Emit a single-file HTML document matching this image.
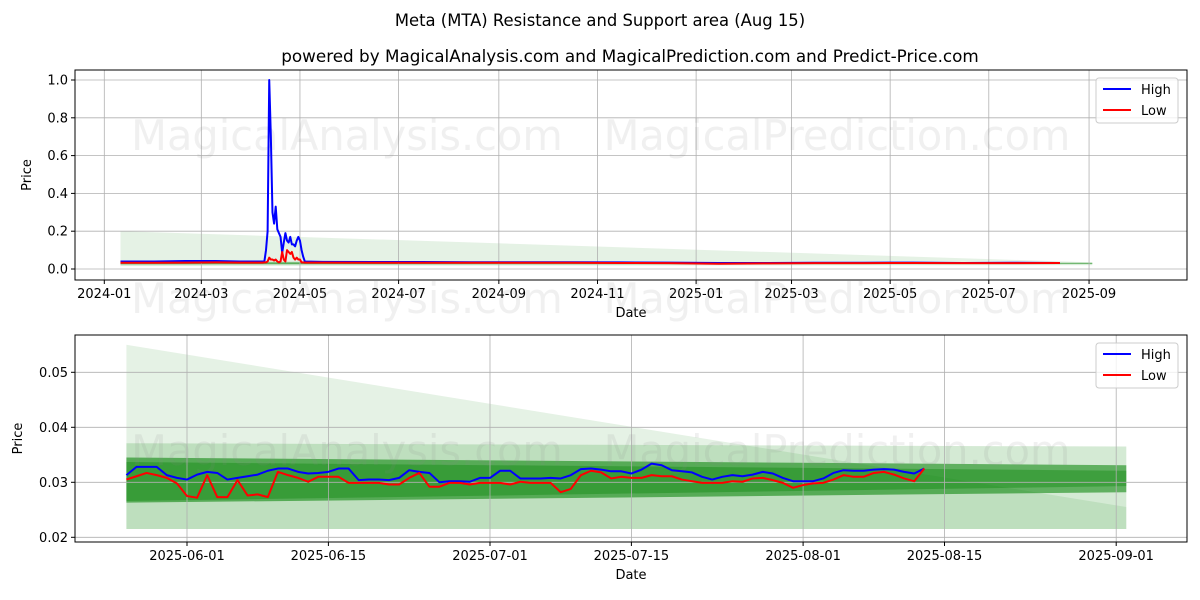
<!DOCTYPE html>
<html><head><meta charset="utf-8">
<style>
body{margin:0;background:#fff;}
svg{display:block;font-family:"DejaVu Sans","Liberation Sans",sans-serif;}
</style></head>
<body>
<svg id="chart" width="1200" height="600" viewBox="0 0 1200 600" xmlns="http://www.w3.org/2000/svg">
<rect width="1200" height="600" fill="#fff"/>
<text x="600" y="26" text-anchor="middle" font-size="16.4">Meta (MTA) Resistance and Support area (Aug 15)</text>
<text x="630" y="62" text-anchor="middle" font-size="16.8">powered by MagicalAnalysis.com and MagicalPrediction.com and Predict-Price.com</text>
<g id="top"></g>
<g id="bot"></g>
</svg>
<script>
// ---- top panel data ----
const topDates = ["2024-01-11","2024-02-01","2024-02-20","2024-03-10","2024-03-25","2024-04-08","2024-04-09","2024-04-10","2024-04-11","2024-04-12","2024-04-13","2024-04-14","2024-04-15","2024-04-16","2024-04-17","2024-04-18","2024-04-19","2024-04-20","2024-04-21","2024-04-22","2024-04-23","2024-04-24","2024-04-25","2024-04-26","2024-04-27","2024-04-28","2024-04-29","2024-04-30","2024-05-01","2024-05-02","2024-05-03","2024-05-04","2024-05-15","2024-06-15","2024-07-15","2024-08-15","2024-09-15","2024-10-15","2024-11-15","2024-12-15","2025-01-15","2025-02-15","2025-03-15","2025-04-15","2025-05-15","2025-06-15","2025-07-15","2025-08-14"];
const topHigh = [0.04,0.04,0.042,0.042,0.04,0.04,0.04,0.10,0.20,1.0,0.70,0.30,0.24,0.33,0.21,0.19,0.17,0.085,0.14,0.19,0.15,0.14,0.17,0.13,0.13,0.12,0.15,0.17,0.15,0.10,0.065,0.04,0.038,0.037,0.037,0.036,0.036,0.036,0.035,0.034,0.032,0.032,0.033,0.033,0.034,0.032,0.033,0.032];
const topLow = [0.033,0.033,0.034,0.035,0.034,0.034,0.035,0.035,0.04,0.06,0.05,0.05,0.045,0.05,0.04,0.035,0.04,0.09,0.05,0.04,0.10,0.09,0.08,0.09,0.06,0.05,0.06,0.05,0.05,0.035,0.035,0.034,0.034,0.033,0.033,0.033,0.033,0.033,0.032,0.031,0.028,0.030,0.031,0.031,0.032,0.031,0.031,0.032];
const topXTicks = ["2024-01","2024-03","2024-05","2024-07","2024-09","2024-11","2025-01","2025-03","2025-05","2025-07","2025-09"];
const topYTicks = [0.0,0.2,0.4,0.6,0.8,1.0];
// ---- bottom panel data ----
const botStart = "2025-05-26";
const botHigh = [0.0313,0.0328,0.0328,0.0328,0.0313,0.0308,0.0305,0.0314,0.0319,0.0317,0.0305,0.0308,0.0311,0.0314,0.0321,0.0325,0.0325,0.0319,0.0316,0.0317,0.0319,0.0325,0.0325,0.0304,0.0305,0.0305,0.0304,0.0308,0.0322,0.0319,0.0317,0.0300,0.0302,0.0302,0.0301,0.0308,0.0308,0.0321,0.0321,0.0307,0.0307,0.0307,0.0308,0.0307,0.0313,0.0324,0.0325,0.0323,0.0320,0.0320,0.0316,0.0323,0.0334,0.0331,0.0322,0.0320,0.0318,0.0310,0.0305,0.0310,0.0313,0.0311,0.0314,0.0319,0.0316,0.0308,0.0302,0.0302,0.0302,0.0307,0.0317,0.0322,0.0321,0.0321,0.0323,0.0324,0.0323,0.0319,0.0316,0.0325];
const botLow = [0.0305,0.0311,0.0317,0.0313,0.0308,0.0298,0.0275,0.0272,0.0313,0.0273,0.0273,0.0304,0.0276,0.0278,0.0273,0.0319,0.0313,0.0308,0.0301,0.0310,0.0310,0.0310,0.0299,0.0299,0.0299,0.0299,0.0296,0.0296,0.0308,0.0317,0.0292,0.0292,0.0299,0.0299,0.0296,0.0299,0.0299,0.0299,0.0296,0.0301,0.0299,0.0299,0.0299,0.0282,0.0288,0.0313,0.0321,0.0318,0.0307,0.0310,0.0308,0.0308,0.0313,0.0311,0.0311,0.0305,0.0302,0.0299,0.0299,0.0299,0.0302,0.0301,0.0307,0.0308,0.0304,0.0299,0.0290,0.0295,0.0298,0.0299,0.0305,0.0313,0.0310,0.0310,0.0317,0.0319,0.0314,0.0307,0.0302,0.0325];
const botXTicks = ["2025-06-01","2025-06-15","2025-07-01","2025-07-15","2025-08-01","2025-08-15","2025-09-01"];
const botYTicks = [0.02,0.03,0.04,0.05];

const NS="http://www.w3.org/2000/svg";
function mk(parent,tag,attrs,txt){const e=document.createElementNS(NS,tag);for(const k in attrs)e.setAttribute(k,attrs[k]);if(txt!==undefined)e.textContent=txt;parent.appendChild(e);return e;}
function dnum(s){if(s.length===7)s+="-01";return Date.UTC(+s.slice(0,4),+s.slice(5,7)-1,+s.slice(8,10))/864e5;}

const T={x0:75,x1:1187,y0:70,y1:280};
const tx=d=>104.3+(dnum(d)-dnum("2024-01-01"))*1.617;
const ty=v=>269-v*189;
const B={x0:75,x1:1187,y0:335,y1:542};
const bx=d=>187+(d-dnum("2025-06-01"))*10.1;
const by=v=>482.3-(v-0.03)*5500;

function poly(g,pts,fill,name){const p=mk(g,"polygon",{points:pts.map(p=>p.join(",")).join(" "),fill:fill});

}

function panel(g,A,xt,xlab,yt,ylab,yfmt,xfn,yfn,bands,series,wmY){
  bands();
  xt.forEach(t=>{const x=xfn(t);const l=mk(g,"line",{x1:x,x2:x,y1:A.y0,y2:A.y1,stroke:"#b0b0b0","stroke-width":0.8});
    
    
    mk(g,"line",{x1:x,x2:x,y1:A.y1,y2:A.y1+4,stroke:"#000"});
    const tl=mk(g,"text",{x:x,y:A.y1+18,"text-anchor":"middle","font-size":13},xlab(t));
    
    });
  yt.forEach(v=>{const y=yfn(v);const l=mk(g,"line",{x1:A.x0,x2:A.x1,y1:y,y2:y,stroke:"#b0b0b0","stroke-width":0.8});
    
    
    mk(g,"line",{x1:A.x0-4,x2:A.x0,y1:y,y2:y,stroke:"#000"});
    const tl=mk(g,"text",{x:A.x0-7,y:y+4.5,"text-anchor":"end","font-size":13},yfmt(v));
    
    });
  [[347,"MagicalAnalysis.com"],[837,"MagicalPrediction.com"]].forEach(w=>{const t=mk(g,"text",{x:w[0],y:wmY,"text-anchor":"middle","font-size":41.5,fill:"#888","fill-opacity":0.13},w[1]);
    
    });
  series();
  const f=mk(g,"rect",{x:A.x0,y:A.y0,width:A.x1-A.x0,height:A.y1-A.y0,fill:"none",stroke:"#000","stroke-width":1});
  
  
  const xl=mk(g,"text",{x:(A.x0+A.x1)/2,y:A.y1+37,"text-anchor":"middle","font-size":13},"Date");
  
  
  const yx=A===T?31:22;const ymid=(A.y0+A.y1)/2;
  const yl=mk(g,"text",{x:yx,y:ymid,"text-anchor":"middle","font-size":13,transform:`rotate(-90 ${yx} ${ymid})`},"Price");
  
  
  const lg=mk(g,"g",{});
  
  
  mk(lg,"rect",{x:1096,y:A.y0+8,width:82,height:45,rx:3,fill:"#fff","fill-opacity":0.8,stroke:"#ccc"});
  [["High","#0000ff",22],["Low","#ff0000",43]].forEach(e=>{const it=mk(lg,"g",{});
    
    
    mk(it,"line",{x1:1103,x2:1131,y1:A.y0+e[2]-3,y2:A.y0+e[2]-3,stroke:e[1],"stroke-width":2});
    mk(it,"text",{x:1141,y:A.y0+e[2]+2,"font-size":13},e[0]);});
}

function line(g,pts,color,name){const p=mk(g,"polyline",{points:pts.map(p=>p.join(",")).join(" "),fill:"none",stroke:color,"stroke-width":2,"stroke-linejoin":"round"});
  
  }

const gt=document.getElementById("top"), gb=document.getElementById("bot");
panel(gt,T,topXTicks,t=>t,topYTicks,"Price",v=>v.toFixed(1),tx,ty,()=>{
  const xa=tx("2024-01-11"), xb=tx("2025-09-03");
  poly(gt,[[xa,ty(0.2)],[xb,ty(0.035)],[xb,ty(0.02)],[xa,ty(0.015)]],"rgba(0,128,0,0.1)","support-band-wide");
  poly(gt,[[xa,ty(0.04)],[xb,ty(0.035)],[xb,ty(0.025)],[xa,ty(0.02)]],"rgba(0,128,0,0.2)","support-band-mid");
  poly(gt,[[xa,ty(0.035)],[xb,ty(0.033)],[xb,ty(0.028)],[xa,ty(0.026)]],"rgba(0,128,0,0.5)","support-band-core");
},()=>{
  line(gt,topDates.map((d,i)=>[tx(d),ty(topHigh[i])]),"#0000ff","high-line");
  line(gt,topDates.map((d,i)=>[tx(d),ty(topLow[i])]),"#ff0000","low-line");
},150);

const s0=dnum(botStart);
const stepB=79/(botHigh.length-1);
panel(gb,B,botXTicks,t=>t,botYTicks,"Price",v=>v.toFixed(2),t=>bx(dnum(t)),by,()=>{
  const xa=bx(s0), xb=bx(dnum("2025-09-02"));
  poly(gb,[[xa,by(0.055)],[xb,by(0.0255)],[xb,by(0.0215)],[xa,by(0.0215)]],"rgba(0,128,0,0.1)","resistance-wedge");
  poly(gb,[[xa,by(0.0371)],[xb,by(0.0365)],[xb,by(0.0215)],[xa,by(0.0215)]],"rgba(0,128,0,0.17)","support-band-wide");
  poly(gb,[[xa,by(0.0345)],[xb,by(0.0331)],[xb,by(0.0282)],[xa,by(0.0263)]],"rgba(0,128,0,0.55)","support-band-outer");
  poly(gb,[[xa,by(0.0337)],[xb,by(0.0321)],[xb,by(0.0293)],[xa,by(0.0266)]],"rgba(0,128,0,0.35)","support-band-inner");
},()=>{
  line(gb,botHigh.map((v,i)=>[bx(s0+i*stepB),by(v)]),"#0000ff","high-line");
  line(gb,botLow.map((v,i)=>[bx(s0+i*stepB),by(v)]),"#ff0000","low-line");
},465);
[[347,"MagicalAnalysis.com"],[837,"MagicalPrediction.com"]].forEach(w=>{const t=mk(gt,"text",{x:w[0],y:313,"text-anchor":"middle","font-size":41.5,fill:"#888","fill-opacity":0.13},w[1]);
  
  });
</script>
</body></html>
